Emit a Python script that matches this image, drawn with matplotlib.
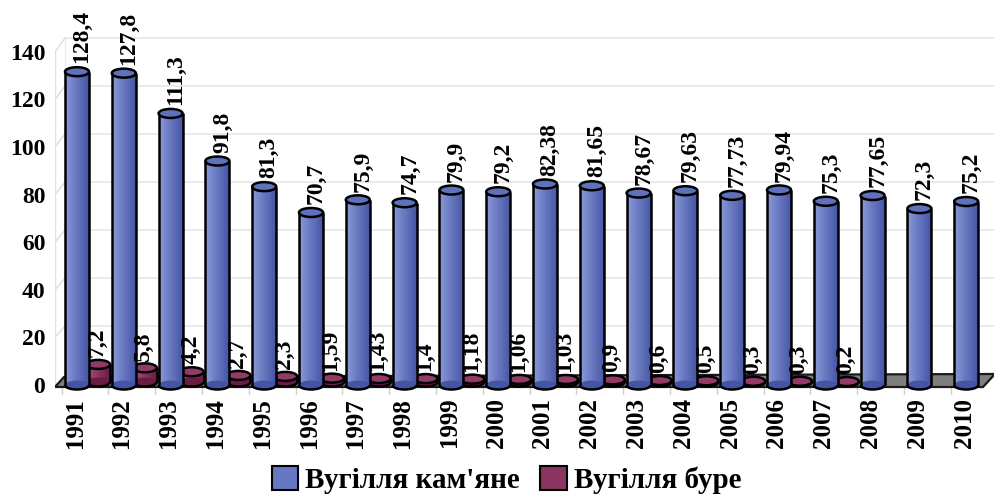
import numpy as np
import matplotlib
matplotlib.use("Agg")
import matplotlib.pyplot as plt
from matplotlib.patches import Ellipse, Arc, Polygon, Patch
from matplotlib.colors import to_rgb

years = list(range(1991, 2011))
hard_coal = [128.4, 127.8, 111.3, 91.8, 81.3, 70.7, 75.9, 74.7, 79.9, 79.2,
             82.38, 81.65, 78.67, 79.63, 77.73, 79.94, 75.3, 77.65, 72.3, 75.2]
brown_coal = [7.2, 5.8, 4.2, 2.7, 2.3, 1.59, 1.43, 1.4, 1.18, 1.06,
              1.03, 0.9, 0.6, 0.5, 0.3, 0.3, 0.2]
series_names = ["Вугілля кам'яне", "Вугілля буре"]
yticks = [0, 20, 40, 60, 80, 100, 120, 140]

FONT = "Liberation Serif"
W, H = 995, 495
# pixel geometry of the plot (from the top-left of the picture)
PX_CAT = 46.8      # pixels per category
PX_UNIT = 2.44     # pixels per y unit for the bars
X0, Y0 = 77, 385   # pixel of first blue bar centre / of value 0
AX_L, AX_R, AX_T, AX_B = 55, 995, 0, 395
# the axis labels and back wall use a slightly different (perspective) scale
LBL_UNIT, GRID_UNIT, GRID_Y0 = 2.38, 2.4, 374


def dx(px):
    return (px - X0) / PX_CAT


def dy(py):
    return (Y0 - py) / PX_UNIT


fig = plt.figure(figsize=(W / 100, H / 100), dpi=100)
ax = fig.add_axes([AX_L / W, (H - AX_B) / H, (AX_R - AX_L) / W, (AX_B - AX_T) / H])
ax.set_xlim(dx(AX_L), dx(AX_R))
ax.set_ylim(dy(AX_B), dy(AX_T))
for s in ax.spines.values():
    s.set_visible(False)

# back wall grid, shifted for the 3d depth
for t in yticks[1:]:
    yg = dy(GRID_Y0 - t * GRID_UNIT)
    yl = dy(Y0 - t * LBL_UNIT)
    ax.plot([dx(AX_L + 10), dx(AX_R)], [yg, yg], color="#e6e6e6", lw=1.2, zorder=0)
    ax.plot([dx(AX_L), dx(AX_L + 10)], [yl, yg], color="#dcdcdc", lw=1.0, zorder=0)
ax.plot([dx(AX_L), dx(AX_L)], [0, dy(Y0 - 140 * LBL_UNIT)], color="#e0e0e0", lw=1.0, zorder=0)
ax.plot([dx(AX_L + 10), dx(AX_L + 10)], [dy(GRID_Y0), dy(GRID_Y0 - 140 * GRID_UNIT)],
        color="#ececec", lw=1.0, zorder=0)
for i in range(len(years) + 1):
    xp = dx(X0 - PX_CAT / 2 + 8 + i * PX_CAT)
    ax.plot([xp, xp], [dy(388), dy(394)], color="#d0d0d0", lw=1.0, zorder=0)

# floor
floor = Polygon([(dx(55), dy(387)), (dx(983), dy(387)), (dx(995), dy(374)), (dx(64), dy(377))],
                closed=True, facecolor="#7f7f7f", edgecolor="#1a1a1a", lw=1.6, zorder=1)
ax.add_patch(floor)


def cylinder(x, h, w, light, dark, top, z, base=0.0):
    eh = 9 / PX_UNIT
    c1, c2 = np.array(to_rgb(light)), np.array(to_rgb(dark))
    t = np.linspace(0, 1, 64)[:, None]
    grad = (c1 * (1 - t) + c2 * t)[None, :, :]
    if h > 0:
        ax.imshow(grad, extent=(x - w / 2, x + w / 2, base, base + h), aspect="auto",
                  interpolation="bilinear", zorder=z)
    ax.add_patch(Ellipse((x, base), w, eh, facecolor=dark, edgecolor="none", zorder=z))
    ax.add_patch(Arc((x, base), w, eh, theta1=180, theta2=360, color="black", lw=1.8, zorder=z + 0.1))
    for xe in (x - w / 2, x + w / 2):
        ax.plot([xe, xe], [base, base + h], color="black", lw=1.8, zorder=z + 0.1,
                solid_capstyle="butt")
    ax.add_patch(Ellipse((x, base + h), w, eh, facecolor=top, edgecolor="black", lw=1.8,
                         zorder=z + 0.2))


bw = 24 / PX_CAT
idx = np.arange(len(years))
for i, v in enumerate(brown_coal):
    x = i + 21 / PX_CAT
    cylinder(x, v, bw, "#a8507f", "#6a1c45", "#923a68", 3, base=dy(382))
    ax.text(x - 1 / PX_CAT, dy(382) + v + 3.0, str(v).replace(".", ","), rotation=90,
            ha="center", va="bottom", fontsize=17, fontweight="bold", family=FONT, zorder=6)
for i, v in enumerate(hard_coal):
    cylinder(i, v, bw, "#8a9ad8", "#4555a6", "#5f71bd", 4)
    ax.text(i + 5 / PX_CAT, v + 3.4, str(v).replace(".", ","), rotation=90, ha="center",
            va="bottom", fontsize=17, fontweight="bold", family=FONT, zorder=6)

ax.set_yticks([dy(Y0 - t * LBL_UNIT) for t in yticks])
ax.set_yticklabels([str(t) for t in yticks], fontsize=17, fontweight="bold", family=FONT)
ax.tick_params(axis="y", length=0, pad=7)
ax.set_xticks(idx - 2 / PX_CAT)
ax.set_xticklabels([str(y) for y in years], rotation=90, fontsize=18, fontweight="bold", family=FONT)
ax.tick_params(axis="x", length=0, pad=2)

handles = [Patch(facecolor="#6677c4", edgecolor="black", lw=1.5),
           Patch(facecolor="#8a3461", edgecolor="black", lw=1.5)]
fig.legend(handles, series_names, loc="center", bbox_to_anchor=(0.509, 0.03), ncol=2,
           frameon=False, handlelength=0.9, handleheight=0.9, handletextpad=0.25,
           columnspacing=0.7, prop={"family": FONT, "weight": "bold", "size": 21})

fig.savefig("out.png", dpi=100)
